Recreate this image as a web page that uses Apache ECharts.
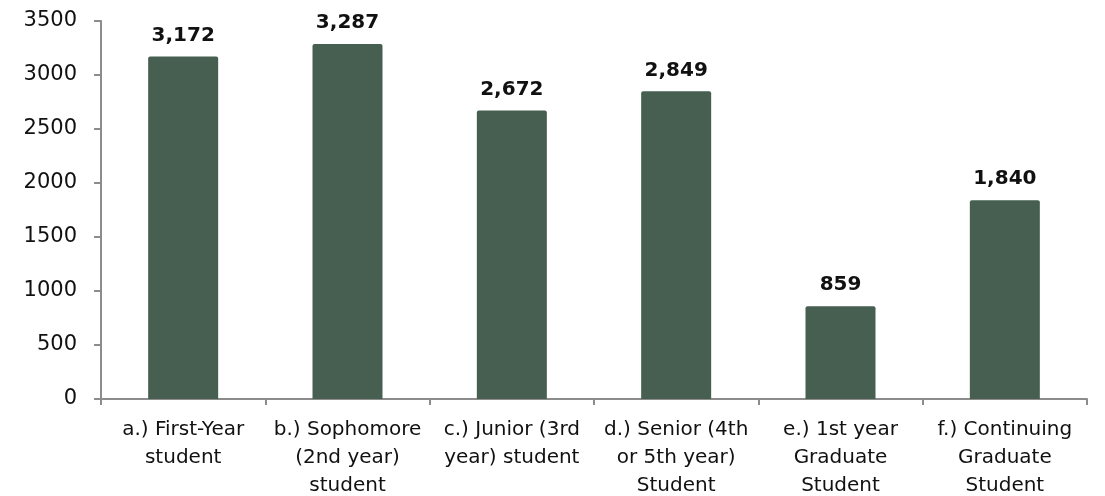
<!DOCTYPE html>
<html>
<head>
<meta charset="utf-8">
<script src="https://cdn.jsdelivr.net/npm/echarts@6/dist/echarts.min.js"></script>
<style>
  html, body { margin: 0; padding: 0; background: #ffffff; }
  #chart { width: 1105px; height: 496px; }
</style>
</head>
<body>
<div id="chart"></div>
<script>
// Student classification categories (line breaks as shown under the axis)
const categories = [
  'a.) First-Year\nstudent',
  'b.) Sophomore\n(2nd year)\nstudent',
  'c.) Junior (3rd\nyear) student',
  'd.) Senior (4th\nor 5th year)\nStudent',
  'e.) 1st year\nGraduate\nStudent',
  'f.) Continuing\nGraduate\nStudent'
];

// Number of students in each category
const counts = [3172, 3287, 2672, 2849, 859, 1840];

// Value axis range
const yMin = 0;
const yMax = 3500;
const yStep = 500;

const FONT = '"DejaVu Sans", "Noto Sans", sans-serif';
const AXIS_GRAY = '#8c8c8c';

const chart = echarts.init(document.getElementById('chart'), null, { renderer: 'canvas' });

chart.setOption({
  animation: false,
  backgroundColor: '#ffffff',
  grid: {
    left: 101, right: 18, top: 21, bottom: 97,
    containLabel: false,
    outerBoundsMode: 'none'
  },
  xAxis: {
    type: 'category',
    data: categories,
    axisLine: { show: true, lineStyle: { color: AXIS_GRAY, width: 2 } },
    axisTick: { show: true, alignWithLabel: false, length: 6, lineStyle: { color: AXIS_GRAY, width: 2 } },
    axisLabel: {
      interval: 0,
      margin: 17,
      color: '#111111',
      fontFamily: FONT,
      fontSize: 20,
      lineHeight: 28,
      align: 'center'
    },
    splitLine: { show: false }
  },
  yAxis: {
    type: 'value',
    min: yMin,
    max: yMax,
    interval: yStep,
    axisLine: { show: true, lineStyle: { color: AXIS_GRAY, width: 2 } },
    axisTick: { show: true, length: 7, lineStyle: { color: AXIS_GRAY, width: 2 } },
    axisLabel: {
      margin: 24,
      color: '#111111',
      fontFamily: FONT,
      fontSize: 21,
      formatter: v => String(v)
    },
    splitLine: { show: false }
  },
  series: [{
    type: 'bar',
    data: counts,
    barWidth: 70,
    itemStyle: { color: '#465f50', borderRadius: [2, 2, 0, 0] },
    label: {
      show: true,
      position: 'top',
      distance: 11,
      color: '#111111',
      fontFamily: FONT,
      fontWeight: 'bold',
      fontSize: 20,
      formatter: p => p.value.toLocaleString('en-US')
    }
  }]
});
</script>
</body>
</html>
